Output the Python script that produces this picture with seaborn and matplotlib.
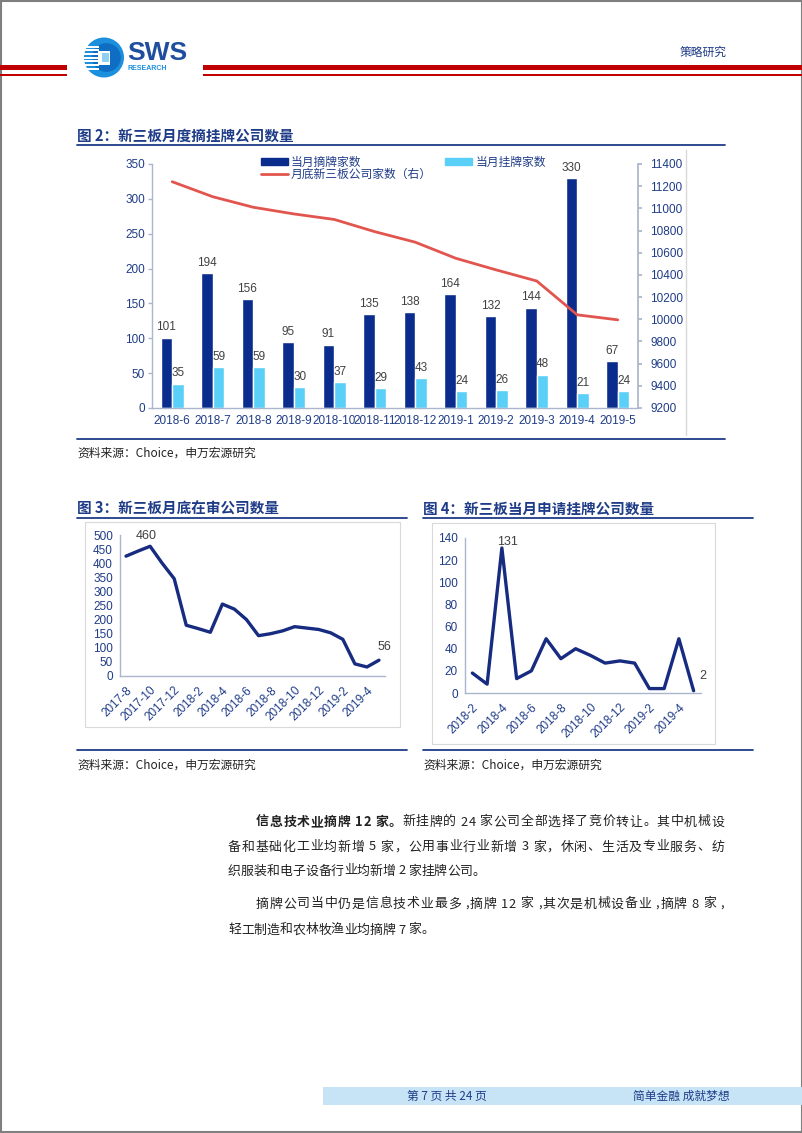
import numpy as np
import pandas as pd
import matplotlib
matplotlib.use("Agg")
import matplotlib.pyplot as plt
import matplotlib.patches as mpatches
from matplotlib.lines import Line2D
from matplotlib.font_manager import FontProperties
import seaborn as sns

# --------------------------
# Data
# --------------------------
months2 = ["2018-6", "2018-7", "2018-8", "2018-9", "2018-10", "2018-11",
           "2018-12", "2019-1", "2019-2", "2019-3", "2019-4", "2019-5"]
delisted = [101, 194, 156, 95, 91, 135, 138, 164, 132, 144, 330, 67]
listed = [35, 59, 59, 30, 37, 29, 43, 24, 26, 48, 21, 24]
total_companies = [11240, 11105, 11010, 10950, 10900, 10790,
                   10695, 10550, 10445, 10345, 10040, 9995]

months3 = ["2017-8", "2017-9", "2017-10", "2017-11", "2017-12", "2018-1",
           "2018-2", "2018-3", "2018-4", "2018-5", "2018-6", "2018-7",
           "2018-8", "2018-9", "2018-10", "2018-11", "2018-12", "2019-1",
           "2019-2", "2019-3", "2019-4", "2019-5"]
under_review = [425, 443, 460, 400, 345, 180, 168, 155, 255, 237, 200,
                143, 150, 160, 175, 170, 165, 153, 130, 43, 32, 56]

months4 = ["2018-2", "2018-3", "2018-4", "2018-5", "2018-6", "2018-7",
           "2018-8", "2018-9", "2018-10", "2018-11", "2018-12", "2019-1",
           "2019-2", "2019-3", "2019-4", "2019-5"]
applied = [18, 8, 131, 13, 20, 49, 31, 40, 34, 27, 29, 27, 4, 4, 49, 2]

# --------------------------
# Style
# --------------------------
sns.set_theme(style="white")
plt.rcParams["font.family"] = ["Liberation Sans", "Noto Sans CJK SC", "DejaVu Sans"]

NAVY = "#1F3C88"
DARK = "#0A2C8C"
LIGHT = "#5ACFF8"
RED = "#E2554E"
LINE = "#172B80"
SPINE = "#A9B6CC"
LABEL = "#404040"
CJK = ["Noto Sans CJK SC", "DejaVu Sans"]

W, H = 802, 1133
fig = plt.figure(figsize=(W / 100, H / 100), dpi=100)


def ax_box(l, t, r, b):
    return fig.add_axes([l / W, 1 - b / H, (r - l) / W, (b - t) / H])


def ftext(x, y, s, **kw):
    kw.setdefault("va", "center")
    return fig.text(x / W, 1 - y / H, s, **kw)


def hline(x0, x1, y, **kw):
    fig.add_artist(Line2D([x0 / W, x1 / W], [1 - y / H, 1 - y / H],
                          transform=fig.transFigure, **kw))


def vline(x, y0, y1, **kw):
    fig.add_artist(Line2D([x / W, x / W], [1 - y0 / H, 1 - y1 / H],
                          transform=fig.transFigure, **kw))


def rect(l, t, r, b, **kw):
    fig.add_artist(mpatches.Rectangle((l / W, 1 - b / H), (r - l) / W, (b - t) / H,
                                      transform=fig.transFigure, **kw))


def style_axes(ax):
    for s in ["top", "right"]:
        ax.spines[s].set_visible(False)
    for s in ["left", "bottom"]:
        ax.spines[s].set_color(SPINE)
        ax.spines[s].set_linewidth(1)
    ax.tick_params(axis="both", labelsize=8.5, labelcolor=NAVY, color=SPINE,
                   length=3, width=1, direction="out", pad=2)
    ax.grid(False)


# --------------------------
# Page header / footer
# --------------------------
rect(0.5, 0.5, 801.5, 1132, fill=False, ec="#7F7F7F", lw=1.5)
rect(0, 65, 67, 69.5, fc="#C00000", ec="none")
rect(0, 74, 67, 75.5, fc="#C00000", ec="none")
rect(203, 65, 802, 69.5, fc="#C00000", ec="none")
rect(203, 74, 802, 75.5, fc="#C00000", ec="none")

# logo
axl = ax_box(83, 36, 125, 79)
axl.set_xlim(-1.05, 1.05)
axl.set_ylim(-1.05, 1.05)
axl.set_aspect("equal")
axl.axis("off")
axl.add_patch(mpatches.Circle((0, 0), 1, fc="#1C8FDD", ec="none"))
axl.add_patch(mpatches.Circle((0.12, 0), 0.72, fc="#0F6EC4", ec="none"))
for yy in np.linspace(-0.55, 0.55, 7):
    axl.add_patch(mpatches.Rectangle((-1.0, yy - 0.05), 0.75, 0.09, fc="white", ec="none"))
axl.add_patch(mpatches.Rectangle((-0.3, -0.35), 0.6, 0.7, fc="white", ec="none"))
axl.add_patch(mpatches.Rectangle((-0.12, -0.2), 0.38, 0.45, fc="#8FD0F5", ec="none"))
ftext(127, 53, "SWS", fontsize=19, fontweight="bold", color="#1F4E9E")
ftext(128, 68, "RESEARCH", fontsize=5, fontweight="bold", color="#1C8FDD")
ftext(680, 52, "策略研究", fontsize=8.5, color=NAVY, family=CJK)

rect(323, 1087, 802, 1105, fc="#C7E4F7", ec="none")
ftext(447, 1096, "第 7 页 共 24 页", fontsize=8.5, color=NAVY, ha="center", family=CJK)
ftext(681, 1096, "简单金融 成就梦想", fontsize=8.5, color=NAVY, ha="center", family=CJK)

# --------------------------
# Figure 2: bars + line
# --------------------------
ftext(77, 136, "图 2：新三板月度摘挂牌公司数量", fontsize=10.5, fontweight="bold",
      color=NAVY, family=CJK)
hline(77, 725, 145, color=NAVY, lw=1.3)
hline(77, 725, 439, color=NAVY, lw=1.3)
vline(686, 150, 435, color="#D9D9D9", lw=1)
ftext(77, 453, "资料来源：Choice，申万宏源研究", fontsize=8.5, color="#222222", family=CJK)

ax = ax_box(152, 164, 638, 408)
df2 = pd.DataFrame({
    "pos": list(range(len(months2))) * 2,
    "value": delisted + listed,
    "series": ["当月摘牌家数"] * len(months2) + ["当月挂牌家数"] * len(months2),
})
sns.barplot(data=df2, x="pos", y="value", hue="series", palette=[DARK, LIGHT],
            width=0.58, saturation=1, errorbar=None, legend=False, ax=ax)
for c in ax.containers:
    ax.bar_label(c, fmt="%d", padding=3, fontsize=8.5, color=LABEL)
style_axes(ax)
ax.set_xlim(-0.5, len(months2) - 0.5)
ax.set_ylim(0, 350)
ax.set_yticks(np.arange(0, 351, 50))
ax.set_xticks(range(len(months2)), months2)
ax.set_xticks(np.arange(-0.5, len(months2), 1), minor=True)
ax.tick_params(axis="x", which="major", length=0, pad=5)
ax.tick_params(axis="x", which="minor", length=4, color=SPINE)
ax.set_xlabel("")
ax.set_ylabel("")

axr = ax.twinx()
sns.lineplot(x=np.arange(len(months2)), y=total_companies, color=RED, lw=2, ax=axr)
axr.set_ylim(9200, 11400)
axr.set_yticks(np.arange(9200, 11401, 200))
axr.set_xlim(-0.5, len(months2) - 0.5)
for s in ["top", "left", "bottom"]:
    axr.spines[s].set_visible(False)
axr.spines["right"].set_color(SPINE)
axr.tick_params(axis="y", labelsize=8.5, labelcolor=NAVY, color=SPINE, length=3, pad=6)
axr.grid(False)

handles = [mpatches.Patch(color=DARK), Line2D([], [], color=RED, lw=2),
           mpatches.Patch(color=LIGHT)]
labels = ["当月摘牌家数", "月底新三板公司家数（右）", "当月挂牌家数"]
leg = axr.legend(handles, labels, ncol=2, loc="upper left",
                 bbox_to_anchor=((261 - 152) / 486, 1 + 7 / 244), frameon=False,
                 fontsize=8.5, handlelength=2.3, handleheight=0.55, handletextpad=0.25,
                 labelspacing=-0.05, columnspacing=1.1, borderpad=0, borderaxespad=0)
for t in leg.get_texts():
    t.set_color(NAVY)

# --------------------------
# Figure 3: companies under review
# --------------------------
ftext(77, 509, "图 3：新三板月底在审公司数量", fontsize=10.5, fontweight="bold",
      color=NAVY, family=CJK)
hline(77, 407, 518, color=NAVY, lw=1.3)
rect(85, 522, 400, 727, fill=False, ec="#D9D9D9", lw=0.8)
hline(77, 407, 750, color=NAVY, lw=1.3)
ftext(77, 765, "资料来源：Choice，申万宏源研究", fontsize=8.5, color="#222222", family=CJK)

ax3 = ax_box(120, 535, 385, 676)
sns.lineplot(x=np.arange(len(months3)), y=under_review, color=LINE, lw=2.4, ax=ax3)
style_axes(ax3)
ax3.set_xlim(-0.5, len(months3) - 0.5)
ax3.set_ylim(0, 500)
ax3.set_yticks(np.arange(0, 501, 50))
ax3.set_xticks(range(0, len(months3), 2), months3[::2], rotation=45, ha="right",
               rotation_mode="anchor")
ax3.tick_params(axis="x", pad=3)
ax3.annotate("460", (2, 460), xytext=(-3, 3), textcoords="offset points",
             ha="center", va="bottom", fontsize=9, color=LABEL)
ax3.annotate("56", (len(months3) - 1, under_review[-1]), xytext=(4, 5),
             textcoords="offset points", ha="center", va="bottom", fontsize=9, color=LABEL)

# --------------------------
# Figure 4: applications per month
# --------------------------
ftext(423, 509, "图 4：新三板当月申请挂牌公司数量", fontsize=10.5, fontweight="bold",
      color=NAVY, family=CJK)
hline(423, 753, 518, color=NAVY, lw=1.3)
rect(432, 523, 715, 744, fill=False, ec="#D9D9D9", lw=0.8)
hline(423, 753, 750, color=NAVY, lw=1.3)
ftext(423, 765, "资料来源：Choice，申万宏源研究", fontsize=8.5, color="#222222", family=CJK)

ax4 = ax_box(465, 538, 701, 693)
sns.lineplot(x=np.arange(len(months4)), y=applied, color=LINE, lw=2.4, ax=ax4)
style_axes(ax4)
ax4.set_xlim(-0.5, len(months4) - 0.5)
ax4.set_ylim(0, 140)
ax4.set_yticks(np.arange(0, 141, 20))
ax4.set_xticks(range(0, len(months4), 2), months4[::2], rotation=45, ha="right",
               rotation_mode="anchor")
ax4.tick_params(axis="x", pad=3)
ax4.annotate("131", (2, 131), xytext=(4, 0), textcoords="offset points",
             ha="center", va="bottom", fontsize=9, color=LABEL)
ax4.annotate("2", (len(months4) - 1, applied[-1]), xytext=(4, 6),
             textcoords="offset points", ha="left", va="bottom", fontsize=9, color=LABEL)

# --------------------------
# Body text
# --------------------------
renderer = fig.canvas.get_renderer()
BODY = "#222222"
FS = 9.3


def text_width(s, weight):
    fp = FontProperties(family=CJK, size=FS, weight=weight)
    w, _, _ = renderer.get_text_width_height_descent(s, fp, ismath=False)
    return w


def draw_line(runs, x0, y, x1=None):
    # place char by char so that full lines are justified like the page
    chars = [(ch, wt) for s, wt in runs for ch in s]
    widths = [text_width(ch, wt) for ch, wt in chars]
    gap = 0.0
    if x1 is not None and len(chars) > 1:
        gap = (x1 - x0 - sum(widths)) / (len(chars) - 1)
    x = x0
    for (ch, wt), w in zip(chars, widths):
        ftext(x, y, ch, fontsize=FS, fontweight=wt, color=BODY, family=CJK, ha="left")
        x += w + gap


draw_line([("信息技术业摘牌 12 家。", "bold"),
           ("新挂牌的 24 家公司全部选择了竞价转让。其中机械设", "normal")], 256, 822, 724)
draw_line([("备和基础化工业均新增 5 家，公用事业行业新增 3 家，休闲、生活及专业服务、纺", "normal")],
          228, 847, 724)
draw_line([("织服装和电子设备行业均新增 2 家挂牌公司。", "normal")], 228, 871)
draw_line([("摘牌公司当中仍是信息技术业最多 ,摘牌 12 家 ,其次是机械设备业 ,摘牌 8 家 ,", "normal")],
          256, 904, 724)
draw_line([("轻工制造和农林牧渔业均摘牌 7 家。", "normal")], 228, 930)

fig.savefig("out.png", dpi=100)
